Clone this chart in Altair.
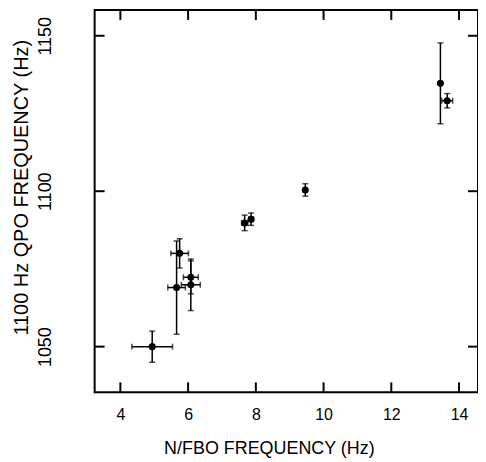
import altair as alt
import pandas as pd

# Data
fbo = [4.94, 5.66, 5.75, 6.08, 6.08, 7.67, 7.86, 9.46, 13.45, 13.65]
qpo = [1050.0, 1069.0, 1080.0, 1072.3, 1069.9, 1089.8, 1091.0, 1100.4, 1134.7, 1129.1]
fbo_err = [0.60, 0.26, 0.26, 0.22, 0.28, 0.09, 0.07, 0.05, 0.0, 0.16]
qpo_err = [5.0, 15.0, 4.7, 5.3, 8.3, 2.5, 2.0, 2.0, 13.0, 2.3]

x_ticks = [4, 6, 8, 10, 12, 14]
y_ticks = [1050, 1100, 1150]

df = pd.DataFrame({"x": fbo, "y": qpo, "xe": fbo_err, "ye": qpo_err})
df["x1"] = df.x - df.xe
df["x2"] = df.x + df.xe
df["y1"] = df.y - df.ye
df["y2"] = df.y + df.ye

W, H = 385, 384
FONT = "Liberation Sans"

xs = alt.Scale(domain=[3.24, 14.56], nice=False, zero=False)
ys = alt.Scale(domain=[1035.3, 1158.3], nice=False, zero=False)

xax = alt.Axis(values=x_ticks, format="d", ticks=False, tickSize=0, domain=False, grid=False,
               labelFont=FONT, labelFontSize=16, labelColor="black", labelPadding=14,
               title="N/FBO FREQUENCY (Hz)", titleFont=FONT, titleFontSize=18,
               titleFontWeight="normal", titleColor="black", titleX=175, titleY=56,
               titleBaseline="middle", titleAlign="center")
yax = alt.Axis(values=y_ticks, format="d", ticks=False, tickSize=0, domain=False, grid=False,
               labelFont=FONT, labelFontSize=18, labelColor="black", labelPadding=40,
               labelAngle=270, labelAlign="center", labelBaseline="bottom",
               title="1100 Hz QPO FREQUENCY (Hz)", titleFont=FONT, titleFontSize=20,
               titleFontWeight="normal", titleColor="black", titleX=-73, titleY=178,
               titleAngle=270, titleBaseline="middle", titleAlign="center")

base = alt.Chart(df)

points = base.mark_circle(color="black", opacity=1, size=50).encode(
    x=alt.X("x:Q", scale=xs, axis=xax),
    y=alt.Y("y:Q", scale=ys, axis=yax),
)
vbars = base.mark_rule(color="black", strokeWidth=1.5).encode(
    x="x:Q", y="y1:Q", y2="y2:Q")
hbars = base.mark_rule(color="black", strokeWidth=1.5).encode(
    y="y:Q", x="x1:Q", x2="x2:Q")
cap_lo = base.mark_tick(color="black", orient="horizontal", size=6, thickness=1.5).encode(
    x="x:Q", y="y1:Q")
cap_hi = base.mark_tick(color="black", orient="horizontal", size=6, thickness=1.5).encode(
    x="x:Q", y="y2:Q")
hcap_df = df[df.xe > 0]
hcap_lo = alt.Chart(hcap_df).mark_tick(color="black", orient="vertical", size=6, thickness=1.5).encode(
    x="x1:Q", y="y:Q")
hcap_hi = alt.Chart(hcap_df).mark_tick(color="black", orient="vertical", size=6, thickness=1.5).encode(
    x="x2:Q", y="y:Q")

xt = alt.Chart(pd.DataFrame({"v": x_ticks}))
yt = alt.Chart(pd.DataFrame({"v": y_ticks}))
TL = 10
tick_b = xt.mark_rule(color="black", strokeWidth=2).encode(
    x="v:Q", y=alt.value(H), y2=alt.value(H - TL))
tick_t = xt.mark_rule(color="black", strokeWidth=2).encode(
    x="v:Q", y=alt.value(0), y2=alt.value(TL))
tick_l = yt.mark_rule(color="black", strokeWidth=2).encode(
    y="v:Q", x=alt.value(0), x2=alt.value(TL))
tick_r = yt.mark_rule(color="black", strokeWidth=2).encode(
    y="v:Q", x=alt.value(W), x2=alt.value(W - TL))

chart = alt.layer(
    points, vbars, hbars, cap_lo, cap_hi, hcap_lo, hcap_hi,
    tick_b, tick_t, tick_l, tick_r
).properties(
    width=W, height=H,
    autosize=alt.AutoSizeParams(type="none"),
    padding={"left": 87, "top": 1, "right": 0, "bottom": 69},
    background="white",
).configure_view(stroke="black", strokeWidth=2)

chart.save("out.html", embed_options={"renderer": "svg", "actions": False})
